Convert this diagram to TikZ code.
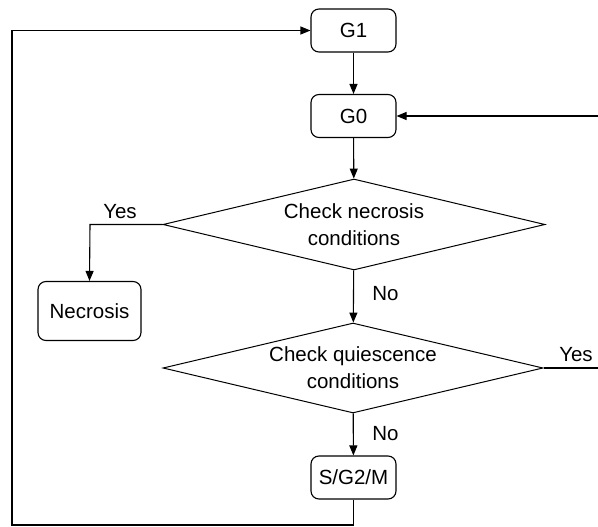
\documentclass[tikz,border=0pt]{standalone}
\usepackage{fontspec}
\setmainfont{Liberation Sans}
\usetikzlibrary{shapes.geometric,arrows.meta}

\begin{document}
\begin{tikzpicture}[x=1pt,y=-1pt,
  every node/.style={font=\fontsize{20.5}{27}\selectfont},
  state/.style={draw, rounded corners=8pt, line width=1.1pt,
    minimum width=85pt, minimum height=43pt, inner sep=0pt},
  decision/.style={draw, diamond, aspect=4.2, inner sep=0pt,
    line width=1pt, align=center},
  flow/.style={line width=1.1pt, -{Triangle[length=10pt,width=8pt]}},
  link/.style={line width=1.1pt},
  lbl/.style={inner sep=0pt}]
\useasboundingbox (0,0) rectangle (598,527);
\clip (0,0) rectangle (598,527);

% states and decisions
\node[state] (g1) at (353.5,30.5) {G1};
\node[state] (g0) at (353.5,116) {G0};
\node[decision, minimum width=382pt, minimum height=91pt] (nec) at (354,224.5)
  {Check necrosis\\conditions};
\node[state, minimum width=103pt, minimum height=59pt] (necrosis) at (89.5,311) {Necrosis};
\node[decision, minimum width=380pt, minimum height=90pt] (qui) at (353,368)
  {Check quiescence\\conditions};
\node[state] (sg2m) at (353.5,477.5) {S/G2/M};

% turning points of the loops
\coordinate (yesturn) at (90,224.5);
\coordinate (farright) at (620,368);
\coordinate (farrightup) at (620,116);
\coordinate (bottom) at (353.5,525);
\coordinate (bottomleft) at (12,525);
\coordinate (topleft) at (12,30.5);

% connectors
\draw[flow] (g1) -- (g0);
\draw[flow] (g0) -- (nec);
\draw[flow] (nec.west) -- (yesturn) -- (necrosis.north);
\draw[flow] (nec) -- (qui);
\draw[flow] (qui) -- (sg2m);
\draw[flow] (qui.east) -- (farright) -- (farrightup) -- (g0.east);
\draw[flow] (sg2m.south) -- (bottom) -- (bottomleft) -- (topleft) -- (g1.west);

% branch labels
\node[lbl] (yes1) at (120,212) {Yes};
\node[lbl] (no1) at (385.5,294) {No};
\node[lbl] (yes2) at (576,355) {Yes};
\node[lbl] (no2) at (385.5,434) {No};
\end{tikzpicture}
\end{document}
